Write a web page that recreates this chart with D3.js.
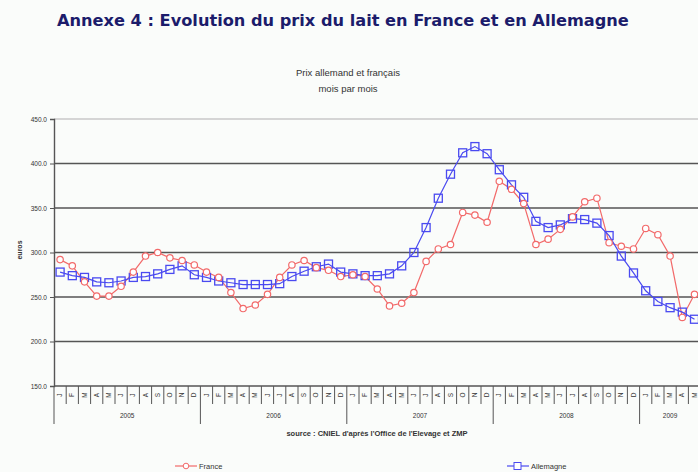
<!DOCTYPE html>
<html lang="fr">
<head>
<meta charset="UTF-8">
<script src="https://cdn.jsdelivr.net/npm/d3@7"></script>
<style>
  body { margin: 0; background: #fafcfa; }
  svg { display: block; }
  .title { font-family: "DejaVu Sans", sans-serif; font-weight: bold; fill: #1c1c6b; }
  .small { font-family: "Liberation Sans", Arial, sans-serif; fill: #333; }
</style>
</head>
<body>
<svg></svg>
<script>
// months from jan 2005 to may 2009
var years = ["2005", "2006", "2007", "2008", "2009"];
var monthLetters = ["J", "F", "M", "A", "M", "J", "J", "A", "S", "O", "N", "D"];
var yTicks = [150, 200, 250, 300, 350, 400, 450];

var france = [292, 285, 267, 251, 251, 262, 278, 296, 300, 294, 291, 286,
              278, 272, 255, 237, 241, 253, 272, 286, 291, 283, 280, 273,
              275, 273, 259, 240, 243, 255, 290, 304, 309, 345, 342, 334,
              380, 371, 355, 309, 315, 326, 340, 357, 361, 311, 307, 304,
              327, 320, 296, 227, 253];
var allemagne = [278, 274, 272, 267, 266, 268, 272, 273, 276, 281, 285, 275,
                 272, 268, 266, 264, 264, 264, 265, 273, 279, 284, 287, 278,
                 276, 274, 274, 276, 285, 300, 328, 361, 388, 412, 419, 411,
                 393, 376, 362, 335, 328, 331, 338, 337, 333, 319, 296, 277,
                 257, 245, 238, 233, 225];

var W = 698, H = 472;
var plotLeft = 54, plotTop = 119, plotBottom = 386;
var nMonths = france.length;
var step = 12.2;

var svg = d3.select("svg").attr("width", W).attr("height", H);

var idx = d3.range(nMonths);
var x = d3.scaleBand().domain(idx).range([plotLeft, plotLeft + step * nMonths]);
var y = d3.scaleLinear().domain([150, 450]).range([plotBottom, plotTop]);

// titles
svg.append("text").attr("class", "title")
  .attr("x", 57).attr("y", 26).style("font-size", "16.2px")
  .text("Annexe 4 : Evolution du prix du lait en France et en Allemagne");
svg.append("text").attr("class", "small")
  .attr("x", 348).attr("y", 76).attr("text-anchor", "middle").style("font-size", "9.5px")
  .text("Prix allemand et français");
svg.append("text").attr("class", "small")
  .attr("x", 348).attr("y", 92).attr("text-anchor", "middle").style("font-size", "9.5px")
  .text("mois par mois");

// gridlines
svg.append("g").selectAll("line").data(yTicks.slice(1)).enter().append("line")
  .attr("x1", plotLeft).attr("x2", W)
  .attr("y1", function(d){ return y(d); }).attr("y2", function(d){ return y(d); })
  .attr("stroke", function(d){ return d == 450 ? "#c8c8c8" : "#555"; })
  .attr("stroke-width", 1.4);

// y axis
var yAxis = d3.axisLeft(y).tickValues(yTicks).tickSize(4)
  .tickFormat(function(d){ return d3.format(".1f")(d); });
var gy = svg.append("g").attr("transform", "translate(" + plotLeft + ",0)").call(yAxis);
gy.select(".domain").attr("stroke", "#555").attr("stroke-width", 1.4);
gy.selectAll("line").attr("stroke", "#555");
gy.selectAll("text").attr("class", "small").style("font-size", "6.5px").attr("fill", "#555");

svg.append("text").attr("class", "small")
  .attr("transform", "translate(22,250) rotate(-90)")
  .attr("text-anchor", "middle").style("font-size", "7px").style("font-weight", "bold")
  .text("euros");

// x axis baseline
svg.append("line").attr("x1", plotLeft).attr("x2", W).attr("y1", plotBottom).attr("y2", plotBottom)
  .attr("stroke", "#555").attr("stroke-width", 1.4);

// category ticks
var gx = svg.append("g");
gx.selectAll("line.m").data(idx).enter().append("line")
  .attr("x1", function(d){ return x(d); }).attr("x2", function(d){ return x(d); })
  .attr("y1", plotBottom).attr("y2", function(d){ return d % 12 == 0 ? 424 : 404; })
  .attr("stroke", "#555").attr("stroke-width", 1);
gx.selectAll("text.m").data(idx).enter().append("text")
  .attr("class", "small")
  .attr("transform", function(d){
    return "translate(" + (x(d) + x.bandwidth() / 2 + 2) + ",395) rotate(-90)";
  })
  .attr("text-anchor", "middle").style("font-size", "6.5px").attr("fill", "#444")
  .text(function(d){ return monthLetters[d % 12]; });
gx.selectAll("text.y").data(years).enter().append("text")
  .attr("class", "small")
  .attr("x", function(d, i){
    var n = Math.min(12, nMonths - i * 12);
    return x(i * 12) + step * n / 2;
  })
  .attr("y", 418).attr("text-anchor", "middle").style("font-size", "6.5px").attr("fill", "#444")
  .text(function(d){ return d; });

svg.append("text").attr("class", "small")
  .attr("x", 377).attr("y", 436).attr("text-anchor", "middle")
  .style("font-size", "7.5px").style("font-weight", "bold").attr("fill", "#222")
  .text("source : CNIEL d'après l'Office de l'Elevage et ZMP");

// series
var red = "#f26a6a", blue = "#4a4af0";
var line = d3.line()
  .x(function(d, i){ return x(i) + x.bandwidth() / 2; })
  .y(function(d){ return y(d); });

svg.append("path").datum(france).attr("d", line)
  .attr("fill", "none").attr("stroke", red).attr("stroke-width", 1.2);
svg.append("path").datum(allemagne).attr("d", line)
  .attr("fill", "none").attr("stroke", blue).attr("stroke-width", 1.2);

svg.append("g").selectAll("rect").data(allemagne).enter().append("rect")
  .attr("x", function(d, i){ return x(i) + x.bandwidth() / 2 - 4; })
  .attr("y", function(d){ return y(d) - 4; })
  .attr("width", 8).attr("height", 8)
  .attr("fill", "none").attr("stroke", blue).attr("stroke-width", 1.3);
svg.append("g").selectAll("circle").data(france).enter().append("circle")
  .attr("cx", function(d, i){ return x(i) + x.bandwidth() / 2; })
  .attr("cy", function(d){ return y(d); })
  .attr("r", 3.2)
  .attr("fill", "#fff").attr("stroke", red).attr("stroke-width", 1.2);

// legend
var legend = [{name: "France", c: red, x: 175, shape: "c"}, {name: "Allemagne", c: blue, x: 507, shape: "s"}];
var lg = svg.append("g").selectAll("g").data(legend).enter().append("g")
  .attr("transform", function(d){ return "translate(" + d.x + ",466)"; });
lg.append("line").attr("x1", 0).attr("x2", 22).attr("stroke", function(d){ return d.c; }).attr("stroke-width", 1.2);
lg.filter(function(d){ return d.shape == "c"; }).append("circle")
  .attr("cx", 11).attr("r", 2.8).attr("fill", "#fff").attr("stroke", red);
lg.filter(function(d){ return d.shape == "s"; }).append("rect")
  .attr("x", 7).attr("y", -3.5).attr("width", 7).attr("height", 7).attr("fill", "#fff").attr("stroke", blue);
lg.append("text").attr("class", "small").attr("x", 24).attr("y", 3)
  .style("font-size", "7.5px").attr("fill", "#333")
  .text(function(d){ return d.name; });
</script>
</body>
</html>
